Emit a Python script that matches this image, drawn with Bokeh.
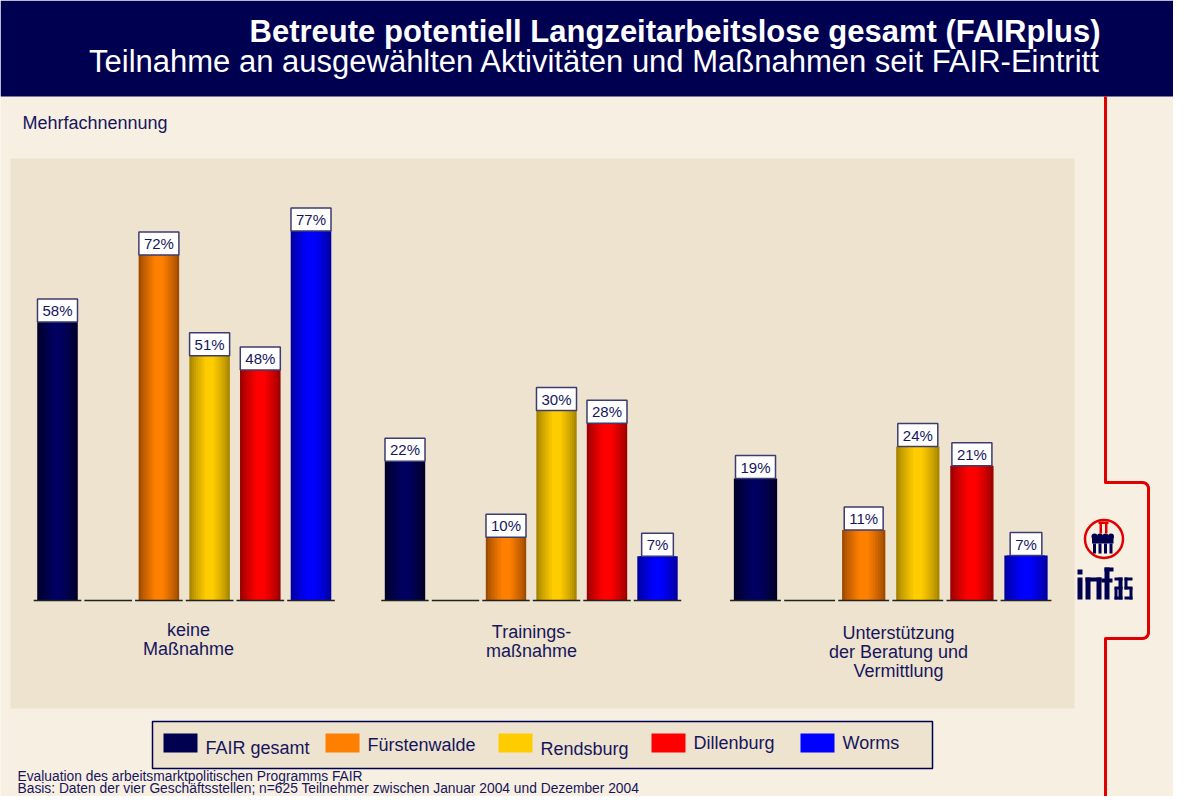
from bokeh.plotting import figure
from bokeh.models import Range1d
from bokeh.core.properties import value
from bokeh.embed import file_html
from bokeh.resources import INLINE
import math

# ---------------- data ----------------
categories = ["keine\nMaßnahme", "Trainings-\nmaßnahme", "Unterstützung\nder Beratung und\nVermittlung"]
series = ["FAIR gesamt", "Fürstenwalde", "Rendsburg", "Dillenburg", "Worms"]
fair_gesamt = [58, 22, 19]
fuerstenwalde = [72, 10, 11]
rendsburg = [51, 30, 24]
dillenburg = [48, 28, 21]
worms = [77, 7, 7]
axis_max = [80, 60, 60]

title = "Betreute potentiell Langzeitarbeitslose gesamt (FAIRplus)"
subtitle = "Teilnahme an ausgewählten Aktivitäten und Maßnahmen seit FAIR-Eintritt"
note = "Mehrfachnennung"
footer = ["Evaluation des arbeitsmarktpolitischen Programms FAIR",
          "Basis: Daten der vier Geschäftsstellen; n=625 Teilnehmer zwischen Januar 2004 und Dezember  2004"]

values_by_series = [fair_gesamt, fuerstenwalde, rendsburg, dillenburg, worms]

# ---------------- style / layout ----------------
W, H = 1173, 796
FONT = "Liberation Sans"
NAVY = "#000050"
TEXT = "#16165C"
BG = "#F6EFE2"
PANEL = "#EDE3CF"
RED = "#E00000"

center_cols = ["#000060", "#FF8000", "#FFCC00", "#FF0000", "#0000FF"]
edge_cols = ["#000028", "#A04C00", "#A88600", "#9C0000", "#0000A0"]
legend_cols = ["#000050", "#FF8000", "#FFCC00", "#FF0000", "#0000FF"]

slot_of_series = [0, 2, 3, 4, 5]      # slot 1 is an empty slot in every group
n_slots = 6
slot0_px = [57, 404.5, 755]           # pixel centre of first slot per group
slot_px = [50.7, 50.5, 54.1]          # pixel distance between slots per group
plot_px = [384, 380, 385]             # pixel height of axis_max per group
zero_px = 600                         # pixel row of the zero line (from top)
bar_frac = 0.8


def hex2rgb(h):
    return tuple(int(h[i:i + 2], 16) for i in (1, 3, 5))


def blend(a, b, t):
    ra, rb = hex2rgb(a), hex2rgb(b)
    return "#%02x%02x%02x" % tuple(int(round(x + (y - x) * t)) for x, y in zip(ra, rb))


p = figure(width=W, height=H, x_range=Range1d(0, W), y_range=Range1d(H, 0),
           output_backend="svg", toolbar_location=None,
           x_axis_type=None, y_axis_type=None, min_border=0)
p.outline_line_color = None
p.background_fill_color = BG
p.border_fill_color = BG
for gr in p.grid:
    gr.visible = False

xr, yr = {}, {}
for g in range(len(categories)):
    s = slot_px[g]
    xr[f"x{g}"] = Range1d(-slot0_px[g] / s, (W - slot0_px[g]) / s)
    k = plot_px[g] / axis_max[g]
    yr[f"y{g}"] = Range1d(-(H - zero_px) / k, zero_px / k)
p.extra_x_ranges = xr
p.extra_y_ranges = yr


def label(x, y, txt, size, color=TEXT, align="left", style="normal", font=FONT):
    p.text(x=x if isinstance(x, list) else [x], y=y if isinstance(y, list) else [y],
           text=txt if isinstance(txt, list) else [txt],
           text_font=value(font), text_font_style=style, text_font_size=size,
           text_color=color, text_align=align, text_baseline="middle")


# header band
p.quad(left=0, right=W, top=0, bottom=96, fill_color=NAVY, line_color=None)
label(1100, 31, title, "31px", color="white", align="right", style="bold")
label(1100, 61, subtitle, "31px", color="white", align="right")

# note
label(22, 122, note, "18px")

# chart panel
p.quad(left=10, right=1074, top=158, bottom=708, fill_color=PANEL, line_color=None)

# bars with stepped cylinder shading
LAYERS = 8
for g in range(len(categories)):
    tops = [vals[g] for vals in values_by_series]
    for i in range(LAYERS):
        t = i / (LAYERS - 1)
        frac = 1.0 - 0.78 * t
        cols = [blend(edge_cols[j], center_cols[j], t ** 0.8) for j in range(len(series))]
        p.vbar(x=slot_of_series, top=tops, bottom=0, width=bar_frac * frac,
               fill_color=cols, line_color=None,
               x_range_name=f"x{g}", y_range_name=f"y{g}")
    # baseline segments under each slot
    p.segment(x0=[k - 0.47 for k in range(n_slots)], x1=[k + 0.47 for k in range(n_slots)],
              y0=[0] * n_slots, y1=[0] * n_slots, line_color="#222222", line_width=1.5,
              x_range_name=f"x{g}", y_range_name=f"y{g}")
    # value labels
    p.text(x=slot_of_series, y=tops, text=[f"{v}%" for v in tops],
           text_font=value(FONT), text_font_size="15px", text_color=TEXT,
           text_align="center", text_baseline="bottom",
           padding=(5, 3), background_fill_color="white",
           border_line_color="#3C3C70", border_line_width=1.5,
           x_range_name=f"x{g}", y_range_name=f"y{g}")

# category labels
cat_x = [188, 531, 898]
cat_mid = [629.5, 631, 632.5]
cat_gap = [18.5, 19.5, 19]
for g, cat in enumerate(categories):
    lines = cat.split("\n")
    label([cat_x[g]] * len(lines), [cat_mid[g] + i * cat_gap[g] for i in range(len(lines))],
          lines, "18px", align="center")

# legend box
p.quad(left=152, right=932, top=721, bottom=768, fill_color=PANEL,
       line_color=NAVY, line_width=1.5)
sw_x = [163, 325, 498, 651, 800]
lab_mid = [747.5, 744.5, 748.5, 742.5, 742.5]
p.quad(left=sw_x, right=[x + 34 for x in sw_x], top=[733] * 5, bottom=[752] * 5,
       fill_color=legend_cols, line_color=None)
label([x + 42 for x in sw_x], lab_mid, series, "18px")

# footer
label([17, 17], [775.5, 787.5], footer, "13.8px")

# red frame line with bump
def corner(cx, cy, r, a0, a1, n=6):
    return [(cx + r * math.cos(math.radians(a0 + (a1 - a0) * i / n)),
             cy + r * math.sin(math.radians(a0 + (a1 - a0) * i / n))) for i in range(n + 1)]

pts = [(1105, 96), (1105, 482), (1142, 482)]
pts += corner(1142, 488, 6, -90, 0)
pts += [(1148, 632)]
pts += corner(1142, 632, 6, 0, 90)
pts += [(1105, 638), (1105, 796)]
p.line(x=[q[0] for q in pts], y=[q[1] for q in pts], line_color=RED, line_width=3,
       line_join="round")

# infas logo: emblem
p.circle(x=[1103.5], y=[538.5], radius=19, fill_color=None, line_color=RED, line_width=2.5)
heads_x = [1094, 1099.5, 1105, 1110.5]
p.quad(left=1091.5, right=1113, top=537, bottom=543, fill_color=NAVY, line_color=None)
p.scatter(x=heads_x, y=[536] * 4, size=6, fill_color=NAVY, line_color=None)
p.quad(left=[x - 1.5 for x in heads_x], right=[x + 1.5 for x in heads_x], top=[543] * 4,
       bottom=[553] * 4, fill_color=NAVY, line_color=None)
p.quad(left=1098, right=1108, top=521, bottom=523.5, fill_color=RED, line_color=None)
p.quad(left=[1099, 1104.5], right=[1101.5, 1107], top=[523.5, 523.5], bottom=[533, 533],
       fill_color=RED, line_color=None)

# infas logo: block lettering (left, right, top, bottom)
letters = [
    (1077, 1082, 569, 574), (1077, 1082, 577, 599),                      # i
    (1085, 1090, 577, 599), (1096, 1101, 577, 599), (1085, 1101, 577, 581),  # n
    (1104, 1109, 567, 599), (1104, 1113, 567, 571), (1101, 1112, 578, 582),  # f
    (1118, 1122, 577, 599), (1114, 1122, 577, 580), (1114, 1117, 587, 599),
    (1114, 1122, 586, 589), (1114, 1122, 596, 599),                      # a
    (1124, 1132, 577, 580), (1124, 1127, 577, 589), (1124, 1132, 586, 589),
    (1129, 1132, 587, 599), (1124, 1132, 596, 599),                      # s
]
p.quad(left=[q[0] for q in letters], right=[q[1] for q in letters],
       top=[q[2] for q in letters], bottom=[q[3] for q in letters],
       fill_color=NAVY, line_color=None)

open("out.html", "w").write(file_html(p, INLINE))
